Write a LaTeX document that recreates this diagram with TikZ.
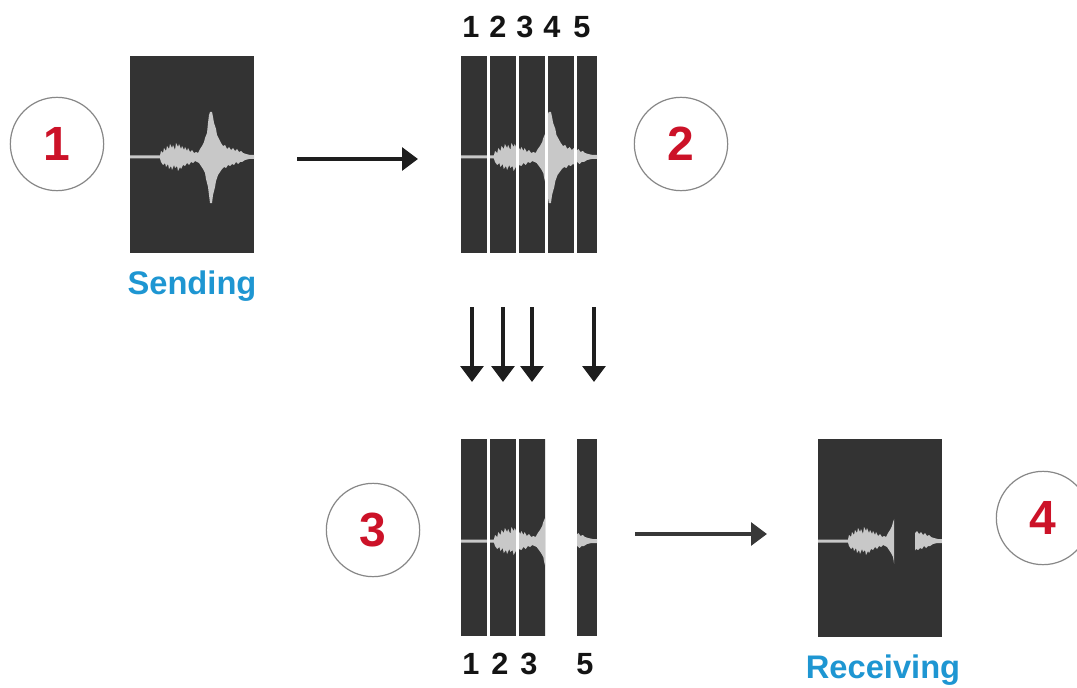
\documentclass[tikz,border=0pt]{standalone}
\usepackage{fontspec}
\setmainfont{Liberation Sans}
\usetikzlibrary{arrows.meta}
\definecolor{boxgray}{RGB}{51,51,51}
\definecolor{wavegray}{RGB}{200,200,200}
\definecolor{numred}{RGB}{204,18,40}
\definecolor{labblue}{RGB}{30,150,210}
\definecolor{ringgray}{RGB}{135,135,135}
\definecolor{arrowgray}{RGB}{30,30,30}
\newcommand\wavepoly{
(0,-1.5) -- (30,-1.5) -- (31,-6) -- (33,-4) -- (34,-9) -- (36,-6) -- (37,-11) -- (39,-8) -- (40,-13) -- (42,-9) -- (43,-12) -- (45,-7) -- (46,-14) -- (48,-10) -- (49,-13) -- (51,-8) -- (52,-11) -- (54,-7) -- (55,-10) -- (57,-6) -- (58,-9) -- (60,-5) -- (62,-7) -- (64,-4) -- (66,-5) -- (68,-4) -- (70,-8) -- (72,-11) -- (74,-15) -- (75,-19) -- (77,-24) -- (78,-34) -- (79,-42) -- (80,-45) -- (82,-45) -- (83,-40) -- (84,-34) -- (86,-28) -- (87,-22) -- (89,-18) -- (91,-14) -- (93,-11) -- (95,-12) -- (97,-8) -- (99,-10) -- (101,-7) -- (103,-9) -- (105,-6) -- (107,-8) -- (109,-5) -- (111,-6) -- (113,-4) -- (116,-3) -- (120,-2) -- (124,-2)
-- (124,2) -- (119,2) -- (115,3) -- (112,5) -- (110,5) -- (108,7) -- (106,5) -- (104,8) -- (102,7) -- (100,9) -- (98,8) -- (96,11) -- (94,10) -- (92,12) -- (90,15) -- (88,18) -- (86,24) -- (85,30) -- (83,38) -- (82,46) -- (80,46) -- (79,38) -- (78,30) -- (76,22) -- (75,16) -- (73,12) -- (71,9) -- (69,6) -- (67,5) -- (65,4) -- (63,6) -- (61,5) -- (59,8) -- (57,6) -- (55,9) -- (53,8) -- (51,12) -- (50,10) -- (48,14) -- (47,9) -- (45,11) -- (44,8) -- (42,13) -- (41,9) -- (39,12) -- (38,7) -- (36,10) -- (35,6) -- (33,8) -- (31,5) -- (30,1.5) -- (0,1.5) -- cycle}
\begin{document}
\begin{tikzpicture}[x=0.75pt,y=-0.75pt,
  numcirc/.style={circle,draw=ringgray,line width=0.9pt,fill=white,minimum size=70pt,inner sep=0pt,text=numred,font=\fontsize{36}{36}\selectfont\bfseries},
  segnum/.style={font=\fontsize{23}{23}\selectfont\bfseries,text=black!92,inner sep=0pt},
  lab/.style={font=\fontsize{24.5}{24.5}\selectfont\bfseries,text=labblue,inner sep=0pt,anchor=base},
  flow/.style={draw=arrowgray,line width=3.3pt,-{Triangle[length=12pt,width=17pt]}},
  gap/.style={fill=white}]
\clip (0,0) rectangle (1077,688);
\fill[white] (0,0) rectangle (1077,688);

% box 1 (sending)
\fill[boxgray] (130,56) rectangle (254,253);
\begin{scope}[shift={(130,157)}]
  \fill[wavegray] \wavepoly;
\end{scope}
\node[lab] (send) at (192,294) {Sending};
\node[numcirc] (c1) at (57,144) {1};

% arrow 1 -> 2
\coordinate (a1s) at (297,159);
\coordinate (a1e) at (418,159);
\draw[flow] (a1s) -- (a1e);

% box 2 (segmented)
\fill[boxgray] (461,56) rectangle (597,253);
\begin{scope}[shift={(461,157)},xscale=1.097]
  \fill[wavegray] \wavepoly;
\end{scope}
\fill[gap] (487,50) rectangle (490,260);
\fill[gap] (516,50) rectangle (519,260);
\fill[gap] (545,50) rectangle (547.5,260);
\fill[gap] (574,50) rectangle (577,260);
\node[segnum] (t1) at (471,27) {1};
\node[segnum] (t2) at (498,27) {2};
\node[segnum] (t3) at (525,27) {3};
\node[segnum] (t4) at (552,27) {4};
\node[segnum] (t5) at (582,27) {5};
\node[numcirc] (c2) at (681,144) {2};

% down arrows
\foreach \x/\n in {472/1,503/2,532/3,594/5}{
  \coordinate (d\n s) at (\x,307);
  \coordinate (d\n e) at (\x,382);
  \draw[flow] (d\n s) -- (d\n e);
}

% box 3 (received segments)
\begin{scope}
  \clip (461,439) rectangle (545,636) (577,439) rectangle (597,636);
  \fill[boxgray] (461,439) rectangle (597,636);
  \begin{scope}[shift={(461,541)},xscale=1.097]
    \fill[wavegray] \wavepoly;
  \end{scope}
\end{scope}
\fill[gap] (487,430) rectangle (490,645);
\fill[gap] (516,430) rectangle (519,645);
\node[segnum] (u1) at (471,664) {1};
\node[segnum] (u2) at (500,664) {2};
\node[segnum] (u3) at (529,664) {3};
\node[segnum] (u5) at (585,664) {5};
\node[numcirc] (c3) at (373,530) {3};

% arrow 3 -> 4
\coordinate (a3s) at (635,534);
\coordinate (a3e) at (767,534);
\draw[flow,draw=black!78] (a3s) -- (a3e);

% box 4 (receiving)
\fill[boxgray] (818,439) rectangle (942,637);
\begin{scope}
  \clip (818,439) rectangle (894,637) (915,439) rectangle (942,637);
  \begin{scope}[shift={(818,541)}]
    \fill[wavegray] \wavepoly;
  \end{scope}
\end{scope}
\node[lab] (recv) at (883,678) {Receiving};
\node[numcirc] (c4) at (1043,518) {4};
\end{tikzpicture}
\end{document}
